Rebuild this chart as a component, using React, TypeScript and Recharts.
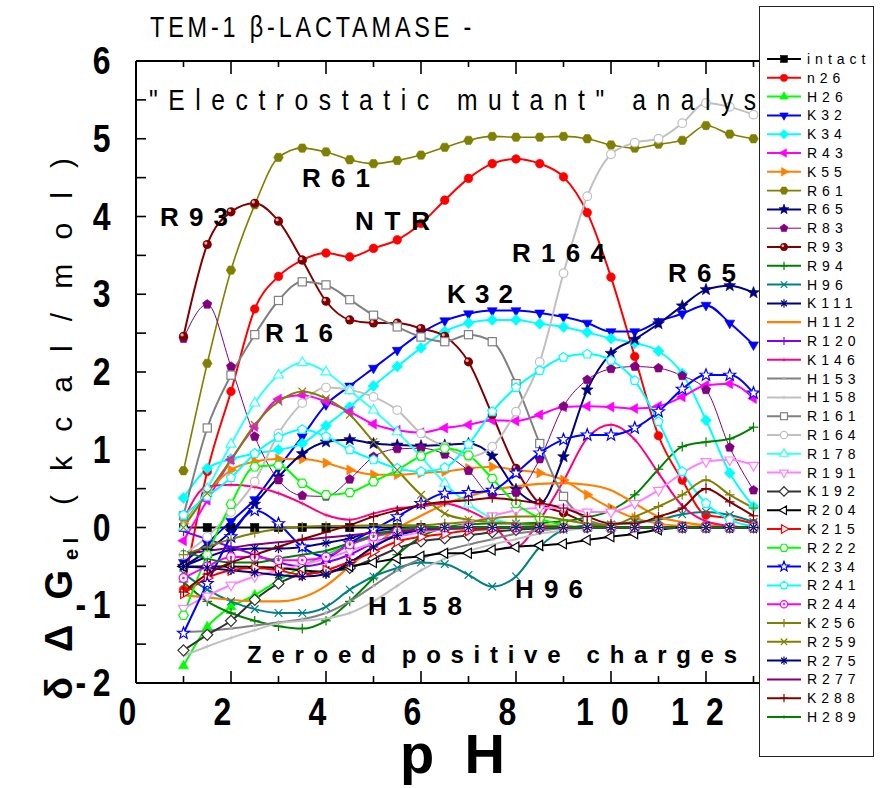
import React from "react";
import { LineChart, Line, XAxis, YAxis } from "recharts";

const FONT = "'Liberation Sans', Arial, Helvetica, sans-serif";

// pH grid of the calculation
const PH = [1, 1.5, 2, 2.5, 3, 3.5, 4, 4.5, 5, 5.5, 6, 6.5, 7, 7.5, 8, 8.5, 9, 9.5, 10, 10.5, 11, 11.5, 12, 12.5, 13];
const X_TICKS = [0, 1, 2, 3, 4, 5, 6, 7, 8, 9, 10, 11, 12, 13, 14];
const Y_TICKS = [-2, -1.5, -1, -0.5, 0, 0.5, 1, 1.5, 2, 2.5, 3, 3.5, 4, 4.5, 5, 5.5, 6];

// δΔG_el (kcal/mol) per mutant
const intact = [0, 0, 0, 0, 0, 0, 0, 0, 0, 0, 0, 0, 0, 0, 0, 0, 0, 0, 0, 0, 0, 0, 0, 0, 0];
const n26 = [-0.8, 0.72, 1.75, 2.81, 3.23, 3.44, 3.53, 3.48, 3.59, 3.7, 3.91, 4.21, 4.49, 4.68, 4.74, 4.68, 4.51, 4.05, 3.22, 2.2, 1.18, 0.61, 0.16, 0.12, 0.05];
const h26 = [-1.78, -1.28, -1.02, -0.87, -0.68, -0.5, -0.35, -0.22, -0.12, -0.06, -0.03, -0.01, 0, 0, 0, 0, 0, 0, 0, 0, 0, 0, 0, 0, 0];
const k32 = [-0.45, -0.2, 0.08, 0.36, 0.77, 1.17, 1.58, 1.82, 2.05, 2.28, 2.5, 2.66, 2.75, 2.79, 2.79, 2.76, 2.71, 2.63, 2.52, 2.52, 2.65, 2.75, 2.86, 2.63, 2.35];
const k34 = [0.38, 0.76, 0.88, 0.95, 1.0, 1.08, 1.31, 1.55, 1.82, 2.07, 2.31, 2.52, 2.63, 2.67, 2.67, 2.62, 2.58, 2.51, 2.43, 2.37, 2.27, 1.98, 1.38, 0.7, 0.27];
const r43 = [-0.17, 0.35, 0.87, 1.3, 1.65, 1.7, 1.62, 1.49, 1.33, 1.25, 1.22, 1.28, 1.32, 1.38, 1.37, 1.45, 1.55, 1.56, 1.55, 1.53, 1.56, 1.68, 1.83, 1.85, 1.66];
const k55 = [0.05, 0.45, 0.74, 0.85, 0.88, 0.88, 0.83, 0.74, 0.68, 0.68, 0.7, 0.72, 0.76, 0.78, 0.74, 0.7, 0.61, 0.42, 0.25, 0.12, 0.05, 0.02, 0.01, 0, 0];
const r61 = [0.73, 2.11, 3.31, 4.15, 4.76, 4.88, 4.83, 4.73, 4.68, 4.72, 4.79, 4.89, 4.98, 5.03, 5.02, 5.02, 5.03, 5.0, 4.92, 4.88, 4.93, 4.98, 5.17, 5.06, 5.0];
const r65 = [-0.5, -0.3, -0.05, 0.3, 0.65, 0.95, 1.1, 1.13, 1.08, 1.06, 1.05, 1.06, 1.08, 0.92, 0.49, 0.31, 0.91, 1.77, 2.24, 2.42, 2.62, 2.85, 3.06, 3.11, 3.02];
const r83 = [2.43, 2.87, 2.07, 1.17, 0.61, 0.41, 0.4, 0.62, 0.91, 1.01, 1.02, 0.94, 0.73, 0.42, 0.45, 0.88, 1.56, 1.9, 2.04, 2.07, 2.05, 1.95, 1.77, 1.03, 0.48];
const r93 = [2.46, 3.64, 4.06, 4.17, 3.94, 3.44, 2.91, 2.67, 2.63, 2.63, 2.56, 2.46, 2.13, 1.45, 0.76, 0.31, 0.19, 0.06, 0.01, 0, 0, 0, 0, 0, 0];
const r94 = [-0.7, -0.95, -1.1, -1.2, -1.27, -1.3, -1.2, -0.95, -0.65, -0.35, -0.12, 0, 0.04, 0.05, 0.05, 0.06, 0.08, 0.13, 0.22, 0.42, 0.75, 1.04, 1.1, 1.14, 1.29];
const h96 = [-0.59, -0.8, -0.95, -1.05, -1.1, -1.1, -1.02, -0.8, -0.63, -0.52, -0.45, -0.47, -0.61, -0.76, -0.63, -0.25, -0.03, 0.03, 0.04, 0.07, 0.1, 0.17, 0.2, 0.16, 0.07];
const k111 = [-0.5, -0.38, -0.29, -0.27, -0.27, -0.25, -0.2, -0.14, -0.05, -0.01, 0, 0, 0, 0, 0, 0, 0, 0, 0, 0, 0, 0, 0, 0, 0];
const h112 = [-0.87, -0.9, -0.93, -0.95, -0.95, -0.9, -0.75, -0.5, -0.25, -0.01, 0.15, 0.3, 0.4, 0.48, 0.53, 0.56, 0.57, 0.55, 0.48, 0.31, 0.14, 0.07, 0.03, 0.01, 0];
const r120 = [-0.05, -0.15, -0.25, -0.35, -0.45, -0.5, -0.45, -0.35, -0.2, -0.1, -0.03, 0, 0, 0, 0, 0, 0, 0, 0, 0, 0, 0, 0, 0, 0];
const k146 = [0.1, 0.53, 0.55, 0.52, 0.44, 0.31, 0.16, 0.1, 0.18, 0.25, 0.27, 0.31, 0.22, 0.05, -0.25, 0.1, 0.6, 1.15, 1.32, 1.13, 0.7, 0.28, 0.08, 0.02, 0];
const h153 = [-1.34, -1.33, -1.3, -1.26, -1.22, -1.18, -1.1, -0.95, -0.75, -0.55, -0.4, -0.3, -0.22, -0.15, -0.08, -0.04, -0.01, 0, 0, 0, 0, 0, 0, 0, 0];
const h158 = [-1.65, -1.53, -1.42, -1.32, -1.23, -1.2, -1.17, -1.1, -0.95, -0.75, -0.55, -0.4, -0.3, -0.22, -0.15, -0.08, -0.04, -0.01, 0, 0, 0, 0, 0, 0, 0];
const r161 = [0.15, 1.28, 1.96, 2.48, 2.92, 3.16, 3.12, 2.93, 2.73, 2.58, 2.45, 2.39, 2.48, 2.39, 1.85, 1.08, 0.4, 0.1, 0.02, 0, 0, 0, 0, 0, 0];
const r164 = [-0.35, -0.12, 0.2, 0.59, 1.21, 1.6, 1.8, 1.77, 1.68, 1.51, 1.21, 1.04, 0.91, 1.04, 1.49, 2.13, 3.27, 4.26, 4.8, 4.95, 5.0, 5.2, 5.46, 5.41, 5.31];
const r178 = [0, 0.5, 1.07, 1.6, 1.96, 2.12, 2.0, 1.76, 1.51, 1.23, 0.91, 0.57, 0.3, 0.12, 0.04, 0.01, 0, 0, 0, 0, 0, 0, 0, 0, 0];
const r191 = [-1.04, -0.88, -0.74, -0.63, -0.55, -0.48, -0.4, -0.3, -0.2, -0.12, -0.06, -0.02, 0.05, 0.15, 0.22, 0.25, 0.25, 0.2, 0.2, 0.31, 0.48, 0.7, 0.85, 0.87, 0.8];
const k192 = [-1.58, -1.38, -1.2, -0.93, -0.72, -0.6, -0.57, -0.52, -0.4, -0.27, -0.18, -0.14, -0.1, -0.06, -0.03, -0.01, 0, 0, 0, 0, 0, 0, 0, 0, 0];
const r204 = [-0.5, -0.5, -0.5, -0.51, -0.52, -0.55, -0.57, -0.5, -0.45, -0.4, -0.37, -0.33, -0.33, -0.29, -0.25, -0.23, -0.21, -0.16, -0.12, -0.08, -0.03, 0, 0, 0, 0];
const k215 = [-0.85, -0.65, -0.55, -0.52, -0.55, -0.61, -0.55, -0.44, -0.31, -0.18, -0.12, -0.08, -0.04, -0.02, 0, 0, 0, 0, 0, 0, 0, 0, 0, 0, 0];
const r222 = [-1.13, -0.35, 0.3, 0.78, 0.8, 0.57, 0.42, 0.45, 0.59, 0.74, 0.92, 1.02, 0.93, 0.63, 0.31, 0.12, 0.03, 0, 0, 0, 0, 0, 0, 0, 0];
const k234 = [-1.36, -0.72, -0.12, 0.22, 0.05, -0.25, -0.38, -0.2, -0.03, 0.14, 0.31, 0.44, 0.45, 0.48, 0.7, 0.96, 1.13, 1.19, 1.19, 1.28, 1.49, 1.78, 1.96, 1.96, 1.73];
const r241 = [0.16, 0.4, 0.64, 0.95, 1.16, 1.26, 1.17, 1.0, 0.87, 0.76, 0.72, 0.77, 1.07, 1.49, 1.8, 2.02, 2.19, 2.23, 2.15, 1.89, 1.36, 0.72, 0.31, 0.1, 0.01];
const r244 = [-0.65, -0.5, -0.38, -0.38, -0.42, -0.42, -0.38, -0.22, -0.12, -0.05, -0.02, 0, 0, 0, 0, 0, 0, 0, 0, 0, 0, 0, 0, 0, 0];
const k256 = [-0.35, -0.25, -0.15, -0.07, -0.02, 0.01, 0.02, 0.02, 0.03, 0.03, 0.03, 0.05, 0.07, 0.12, 0.14, 0.14, 0.1, 0.05, 0.03, 0.14, 0.27, 0.42, 0.61, 0.42, 0.25];
const r259 = [0, 0.44, 0.87, 1.32, 1.62, 1.75, 1.66, 1.45, 1.1, 0.74, 0.42, 0.18, 0.1, 0.07, 0.05, 0.03, 0.02, 0, 0, 0, 0, 0, 0, 0, 0];
const r275 = [-0.5, -0.52, -0.55, -0.58, -0.61, -0.63, -0.6, -0.45, -0.25, -0.1, -0.03, 0, 0, 0, 0, 0, 0, 0, 0, 0, 0, 0, 0, 0, 0];
const r277 = [-0.35, -0.3, -0.26, -0.22, -0.19, -0.16, -0.13, -0.1, -0.07, -0.05, -0.03, -0.02, -0.01, 0, 0, 0, 0, 0, 0, 0, 0, 0, 0, 0, 0];
const k288 = [-0.83, -0.6, -0.45, -0.35, -0.25, -0.15, -0.06, 0.03, 0.14, 0.22, 0.29, 0.33, 0.35, 0.38, 0.35, 0.31, 0.25, 0.14, 0.05, 0.05, 0.14, 0.25, 0.5, 0.33, 0.15];
const h289 = [-0.3, -0.4, -0.45, -0.45, -0.4, -0.35, -0.3, -0.2, -0.1, -0.03, 0, 0, 0, 0, 0, 0, 0, 0, 0, 0, 0, 0, 0, 0, 0];

type Shape =
  | "square" | "circle" | "triUp" | "triDown" | "triLeft" | "triRight" | "diamond"
  | "hexagon" | "pentagon" | "star" | "sphere" | "plus" | "cross" | "asterisk"
  | "circleDot" | "tiny" | "tinyTri" | "none";

interface Series {
  key: string;
  label: string;
  color: string;
  shape: Shape;
  open?: boolean;
  width?: number;
  values: number[];
}

const SERIES: Series[] = [
  { key: "intact", label: "intact", color: "#000000", shape: "square", values: intact },
  { key: "n26", label: "n26", color: "#FF0000", shape: "circle", values: n26 },
  { key: "H26", label: "H26", color: "#00FF00", shape: "triUp", values: h26 },
  { key: "K32", label: "K32", color: "#0000FF", shape: "triDown", values: k32 },
  { key: "K34", label: "K34", color: "#00FFFF", shape: "diamond", values: k34 },
  { key: "R43", label: "R43", color: "#FF00FF", shape: "triLeft", values: r43 },
  { key: "K55", label: "K55", color: "#FF8000", shape: "triRight", values: k55 },
  { key: "R61", label: "R61", color: "#808000", shape: "hexagon", width: 1.6, values: r61 },
  { key: "R65", label: "R65", color: "#000080", shape: "star", values: r65 },
  { key: "R83", label: "R83", color: "#800080", shape: "pentagon", width: 1, values: r83 },
  { key: "R93", label: "R93", color: "#800000", shape: "sphere", values: r93 },
  { key: "R94", label: "R94", color: "#008000", shape: "plus", values: r94 },
  { key: "H96", label: "H96", color: "#008080", shape: "cross", values: h96 },
  { key: "K111", label: "K111", color: "#000080", shape: "asterisk", values: k111 },
  { key: "H112", label: "H112", color: "#FF8000", shape: "none", width: 2.2, values: h112 },
  { key: "R120", label: "R120", color: "#8000FF", shape: "plus", values: r120 },
  { key: "K146", label: "K146", color: "#FF0080", shape: "tiny", values: k146 },
  { key: "H153", label: "H153", color: "#808080", shape: "tinyTri", values: h153 },
  { key: "H158", label: "H158", color: "#C0C0C0", shape: "tiny", values: h158 },
  { key: "R161", label: "R161", color: "#808080", shape: "square", open: true, values: r161 },
  { key: "R164", label: "R164", color: "#C0C0C0", shape: "circle", open: true, values: r164 },
  { key: "R178", label: "R178", color: "#33FFFF", shape: "triUp", open: true, values: r178 },
  { key: "R191", label: "R191", color: "#FF80FF", shape: "triDown", open: true, values: r191 },
  { key: "K192", label: "K192", color: "#333333", shape: "diamond", open: true, values: k192 },
  { key: "R204", label: "R204", color: "#000000", shape: "triLeft", open: true, values: r204 },
  { key: "K215", label: "K215", color: "#FF0000", shape: "triRight", open: true, values: k215 },
  { key: "R222", label: "R222", color: "#00FF00", shape: "hexagon", open: true, values: r222 },
  { key: "K234", label: "K234", color: "#0000FF", shape: "star", open: true, values: k234 },
  { key: "R241", label: "R241", color: "#00FFFF", shape: "pentagon", open: true, values: r241 },
  { key: "R244", label: "R244", color: "#FF00FF", shape: "circleDot", open: true, values: r244 },
  { key: "K256", label: "K256", color: "#808000", shape: "plus", values: k256 },
  { key: "R259", label: "R259", color: "#808000", shape: "cross", values: r259 },
  { key: "R275", label: "R275", color: "#000080", shape: "asterisk", values: r275 },
  { key: "R277", label: "R277", color: "#800080", shape: "none", values: r277 },
  { key: "K288", label: "K288", color: "#800000", shape: "plus", values: k288 },
  { key: "H289", label: "H289", color: "#008000", shape: "tiny", values: h289 },
];

const rows = PH.map((ph, i) => {
  const row: Record<string, number> = { ph };
  SERIES.forEach((s) => (row[s.key] = s.values[i]));
  return row;
});

// text labels drawn over the plot
const NOTES = [
  { text: "R93", x: 160, y: 226, w: 68 },
  { text: "R61", x: 302, y: 187, w: 68 },
  { text: "NTR", x: 355, y: 230, w: 75 },
  { text: "R16", x: 265, y: 342, w: 68 },
  { text: "K32", x: 447, y: 303, w: 66 },
  { text: "R164", x: 512, y: 262, w: 93 },
  { text: "R65", x: 668, y: 282, w: 68 },
  { text: "H158", x: 368, y: 615, w: 94 },
  { text: "H96", x: 515, y: 598, w: 68 },
];

function poly(cx: number, cy: number, r: number, n: number, rot: number) {
  const pts: string[] = [];
  for (let i = 0; i < n; i++) {
    const a = ((rot + (i * 360) / n) * Math.PI) / 180;
    pts.push(`${cx + r * Math.cos(a)},${cy + r * Math.sin(a)}`);
  }
  return pts.join(" ");
}

function star(cx: number, cy: number, r: number) {
  const pts: string[] = [];
  for (let i = 0; i < 10; i++) {
    const rr = i % 2 ? r * 0.42 : r;
    const a = ((-90 + i * 36) * Math.PI) / 180;
    pts.push(`${cx + rr * Math.cos(a)},${cy + rr * Math.sin(a)}`);
  }
  return pts.join(" ");
}

function Marker({ s, cx, cy, k = 1 }: { s: Series; cx: number; cy: number; k?: number }) {
  const c = s.color;
  const fill = s.open ? "#fff" : c;
  const sw = s.open ? 1.2 : 0.6;
  const r = 4.8 * k;
  switch (s.shape) {
    case "square":
      return <rect x={cx - r * 0.85} y={cy - r * 0.85} width={r * 1.7} height={r * 1.7} fill={fill} stroke={c} strokeWidth={sw} />;
    case "circle":
      return <circle cx={cx} cy={cy} r={r * 0.9} fill={fill} stroke={c} strokeWidth={sw} />;
    case "circleDot":
      return (
        <g>
          <circle cx={cx} cy={cy} r={r * 0.9} fill="#fff" stroke={c} strokeWidth={1.2} />
          <circle cx={cx} cy={cy} r={1.3 * k} fill={c} />
        </g>
      );
    case "triUp":
      return <polygon points={poly(cx, cy, r * 1.2, 3, -90)} fill={fill} stroke={c} strokeWidth={sw} />;
    case "triDown":
      return <polygon points={poly(cx, cy, r * 1.2, 3, 90)} fill={fill} stroke={c} strokeWidth={sw} />;
    case "triLeft":
      return <polygon points={poly(cx, cy, r * 1.2, 3, 180)} fill={fill} stroke={c} strokeWidth={sw} />;
    case "triRight":
      return <polygon points={poly(cx, cy, r * 1.2, 3, 0)} fill={fill} stroke={c} strokeWidth={sw} />;
    case "diamond":
      return <polygon points={poly(cx, cy, r * 1.15, 4, -90)} fill={fill} stroke={c} strokeWidth={sw} />;
    case "hexagon":
      return <polygon points={poly(cx, cy, r, 6, 0)} fill={fill} stroke={c} strokeWidth={sw} />;
    case "pentagon":
      return <polygon points={poly(cx, cy, r, 5, -90)} fill={fill} stroke={c} strokeWidth={sw} />;
    case "star":
      return <polygon points={star(cx, cy, r * 1.3)} fill={fill} stroke={c} strokeWidth={sw} />;
    case "sphere":
      return (
        <g>
          <circle cx={cx} cy={cy} r={r * 0.95} fill={c} />
          <circle cx={cx - 1.4 * k} cy={cy - 1.4 * k} r={1.6 * k} fill="#E0B0B0" />
        </g>
      );
    case "plus":
      return (
        <g stroke={c} strokeWidth={1.2}>
          <line x1={cx - r} x2={cx + r} y1={cy} y2={cy} />
          <line x1={cx} x2={cx} y1={cy - r} y2={cy + r} />
        </g>
      );
    case "cross":
      return (
        <g stroke={c} strokeWidth={1.2}>
          <line x1={cx - r * 0.8} x2={cx + r * 0.8} y1={cy - r * 0.8} y2={cy + r * 0.8} />
          <line x1={cx - r * 0.8} x2={cx + r * 0.8} y1={cy + r * 0.8} y2={cy - r * 0.8} />
        </g>
      );
    case "asterisk":
      return (
        <g stroke={c} strokeWidth={1.2}>
          <line x1={cx - r} x2={cx + r} y1={cy} y2={cy} />
          <line x1={cx} x2={cx} y1={cy - r} y2={cy + r} />
          <line x1={cx - r * 0.7} x2={cx + r * 0.7} y1={cy - r * 0.7} y2={cy + r * 0.7} />
          <line x1={cx - r * 0.7} x2={cx + r * 0.7} y1={cy + r * 0.7} y2={cy - r * 0.7} />
        </g>
      );
    case "tiny":
      return (
        <g stroke={c} strokeOpacity={0.6} strokeWidth={1}>
          <line x1={cx - 2.5 * k} x2={cx + 2.5 * k} y1={cy} y2={cy} />
          <line x1={cx} x2={cx} y1={cy - 2.5 * k} y2={cy + 2.5 * k} />
        </g>
      );
    case "tinyTri":
      return <polygon points={poly(cx, cy, 2.6 * k, 3, -90)} fill="#B0B0B0" />;
    default:
      return null;
  }
}

const tickText = {
  fontFamily: FONT,
  fontWeight: 700,
  fontSize: 39,
  fill: "#000",
};

// axis sizes; the chart margins below are reduced by the same amounts
const X_AXIS_H = 30;
const Y_AXIS_W = 60;

function BottomTick(props: any) {
  const { x, y, payload } = props;
  const v = payload.value as number;
  const major = v % 2 === 0;
  // the last label sits under the legend box, so it is left out
  const labelled = major && v < 14;
  return (
    <g>
      <line x1={x} x2={x} y1={y} y2={y - (major ? 12 : 7)} stroke="#000" strokeWidth={1.6} />
      {labelled && (
        <text
          transform={`translate(${x},${y + 42}) scale(0.82,1)`}
          textAnchor="middle"
          style={{ ...tickText, letterSpacing: 21 }}
        >
          {String(v)}
        </text>
      )}
    </g>
  );
}

function TopTick(props: any) {
  const { x, y, payload } = props;
  const major = (payload.value as number) % 2 === 0;
  return <line x1={x} x2={x} y1={y} y2={y + (major ? 13 : 6)} stroke="#000" strokeWidth={1.6} />;
}

function LeftTick(props: any) {
  const { x, y, payload } = props;
  const v = payload.value as number;
  const major = Number.isInteger(v);
  return (
    <g>
      <line x1={x} x2={x + 10} y1={y} y2={y} stroke="#000" strokeWidth={1.6} />
      {major && (
        <text
          transform={`translate(${x - 19},${y + 13}) scale(0.82,1)`}
          textAnchor="end"
          style={{ ...tickText, letterSpacing: 8 }}
        >
          {String(v)}
        </text>
      )}
    </g>
  );
}

function RightTick(props: any) {
  const { x, y } = props;
  return <line x1={x} x2={x - 10} y1={y} y2={y} stroke="#000" strokeWidth={1.6} />;
}

function Legend() {
  const top = 52;
  const step = 18.8;
  return (
    <div
      style={{
        position: "absolute",
        left: 759,
        top: 6,
        width: 115,
        height: 751,
        boxSizing: "border-box",
        border: "1.5px solid #222",
        background: "#fff",
      }}
    >
      <svg width={112} height={748}>
        {SERIES.map((s, i) => {
          const cy = top + i * step;
          return (
            <g key={s.key}>
              <line x1={7} x2={41} y1={cy} y2={cy} stroke={s.color} strokeWidth={s.width ?? 2} />
              <Marker s={s} cx={24} cy={cy} k={0.85} />
              <text
                x={47}
                y={cy + 5}
                style={{ fontFamily: FONT, fontSize: 14, letterSpacing: 5, fill: "#000" }}
              >
                {s.label}
              </text>
            </g>
          );
        })}
      </svg>
    </div>
  );
}

function Overlay() {
  const bold = { fontFamily: FONT, fontWeight: 700, fill: "#000" };
  const normal = { fontFamily: FONT, fontWeight: 400, fill: "#000" };
  return (
    <svg
      width={884}
      height={788}
      style={{ position: "absolute", left: 0, top: 0, pointerEvents: "none" }}
    >
      <text
        transform="translate(150,37) scale(0.78,1)"
        textLength={412}
        lengthAdjust="spacing"
        style={{ ...normal, fontSize: 30 }}
      >
        TEM-1 β-LACTAMASE -
      </text>
      <text
        transform="translate(149,110) scale(0.85,1)"
        textLength={760}
        lengthAdjust="spacing"
        style={{ ...normal, fontSize: 29 }}
      >
        "Electrostatic mutant" analysis
      </text>
      {NOTES.map((n) => (
        <text key={n.text} x={n.x} y={n.y} textLength={n.w} lengthAdjust="spacing" style={{ ...bold, fontSize: 26 }}>
          {n.text}
        </text>
      ))}
      <text x={247} y={663} textLength={490} lengthAdjust="spacing" style={{ ...bold, fontSize: 24 }}>
        Zeroed positive charges
      </text>
      <text x={400} y={773} textLength={105} lengthAdjust="spacing" style={{ ...bold, fontSize: 56 }}>
        pH
      </text>
      {/* rotated y-axis title */}
      <text transform="translate(72,700) rotate(-90)" textLength={130} lengthAdjust="spacing" style={{ ...bold, fontSize: 38 }}>
        δΔG
      </text>
      <text transform="translate(78,560) rotate(-90)" textLength={22} lengthAdjust="spacing" style={{ ...bold, fontSize: 20 }}>
        el
      </text>
      <text transform="translate(72,505) rotate(-90)" textLength={347} lengthAdjust="spacing" style={{ ...normal, fontSize: 30 }}>
        (kcal/mol)
      </text>
    </svg>
  );
}

export default function App() {
  return (
    <div
      style={{
        position: "absolute",
        left: 0,
        top: 0,
        width: 884,
        height: 788,
        background: "#fff",
        overflow: "hidden",
      }}
    >
      <LineChart
        width={884}
        height={788}
        data={rows}
        margin={{
          top: 61 - X_AXIS_H,
          right: 83 - Y_AXIS_W,
          bottom: 105 - X_AXIS_H,
          left: 136 - Y_AXIS_W,
        }}
      >
        <XAxis
          dataKey="ph"
          type="number"
          domain={[0, 14]}
          ticks={X_TICKS}
          interval={0}
          height={X_AXIS_H}
          tickSize={0}
          tickMargin={0}
          tickLine={false}
          axisLine={{ stroke: "#000", strokeWidth: 2 }}
          tick={<BottomTick />}
          allowDataOverflow
        />
        <XAxis
          xAxisId="top"
          orientation="top"
          dataKey="ph"
          type="number"
          domain={[0, 14]}
          ticks={X_TICKS}
          interval={0}
          height={X_AXIS_H}
          tickSize={0}
          tickMargin={0}
          tickLine={false}
          axisLine={{ stroke: "#000", strokeWidth: 2 }}
          tick={<TopTick />}
          allowDataOverflow
        />
        <YAxis
          type="number"
          domain={[-2, 6]}
          ticks={Y_TICKS}
          interval={0}
          width={Y_AXIS_W}
          tickSize={0}
          tickMargin={0}
          tickLine={false}
          axisLine={{ stroke: "#000", strokeWidth: 2 }}
          tick={<LeftTick />}
          allowDataOverflow
        />
        <YAxis
          yAxisId="right"
          orientation="right"
          type="number"
          domain={[-2, 6]}
          ticks={Y_TICKS}
          interval={0}
          width={Y_AXIS_W}
          tickSize={0}
          tickMargin={0}
          tickLine={false}
          axisLine={{ stroke: "#000", strokeWidth: 2 }}
          tick={<RightTick />}
          allowDataOverflow
        />
        {SERIES.map((s) => (
          <Line
            key={s.key}
            dataKey={s.key}
            type="monotone"
            stroke={s.color}
            strokeWidth={s.width ?? 2}
            activeDot={false}
            isAnimationActive={false}
            dot={
              s.shape === "none"
                ? false
                : (p: any) => <Marker key={`${s.key}-${p.index}`} s={s} cx={p.cx} cy={p.cy} />
            }
          />
        ))}
      </LineChart>
      <Overlay />
      <Legend />
    </div>
  );
}
